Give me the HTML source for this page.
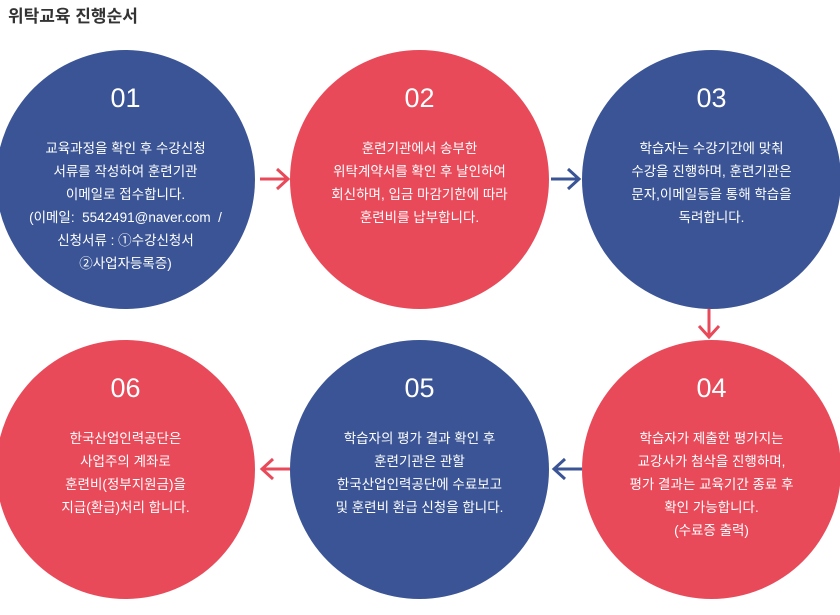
<!DOCTYPE html>
<html><head><meta charset="utf-8"><style>
body{margin:0;width:840px;height:615px;background:#fff;position:relative;overflow:hidden;font-family:"Liberation Sans","Noto Sans CJK KR",sans-serif}
.t{position:absolute;left:8px;top:2px;font-size:17px;font-weight:bold;color:#333}
.c{position:absolute;width:259px;height:259px;border-radius:50%;color:#fff;text-align:center}
.b{background:#3a5495}.r{background:#e84a5a}
.n{position:absolute;left:0;right:0;top:33px;font-size:27px;font-weight:500}
.x{position:absolute;left:0;right:0;top:87px;font-size:13.5px;line-height:23px}
svg{position:absolute;left:0;top:0}
</style></head><body>
<div class="t">위탁교육 진행순서</div>
<div class="c b" style="left:-4px;top:50px"><div class="n">01</div><div class="x">교육과정을 확인 후 수강신청<br>서류를 작성하여 훈련기관<br>이메일로 접수합니다.<br>(이메일:&nbsp; 5542491@naver.com &nbsp;/<br>신청서류 : ①수강신청서<br>②사업자등록증)</div></div>
<div class="c r" style="left:290px;top:50px"><div class="n">02</div><div class="x">훈련기관에서 송부한<br>위탁계약서를 확인 후 날인하여<br>회신하며, 입금 마감기한에 따라<br>훈련비를 납부합니다.</div></div>
<div class="c b" style="left:582px;top:50px"><div class="n">03</div><div class="x">학습자는 수강기간에 맞춰<br>수강을 진행하며, 훈련기관은<br>문자,이메일등을 통해 학습을<br>독려합니다.</div></div>
<div class="c r" style="left:582px;top:340px"><div class="n">04</div><div class="x">학습자가 제출한 평가지는<br>교강사가 첨삭을 진행하며,<br>평가 결과는 교육기간 종료 후<br>확인 가능합니다.<br>(수료증 출력)</div></div>
<div class="c b" style="left:290px;top:340px"><div class="n">05</div><div class="x">학습자의 평가 결과 확인 후<br>훈련기관은 관할<br>한국산업인력공단에 수료보고<br>및 훈련비 환급 신청을 합니다.</div></div>
<div class="c r" style="left:-4px;top:340px"><div class="n">06</div><div class="x">한국산업인력공단은<br>사업주의 계좌로<br>훈련비(정부지원금)을<br>지급(환급)처리 합니다.</div></div>
<svg width="840" height="615" fill="none" stroke-width="3">
<g stroke="#e84a5a"><path d="M260 179H288M277 169l11 10-11 10"/><path d="M709 309V337M699 326l10 11 10-11"/></g>
<g stroke="#3a5495"><path d="M551 179H579M568 169l11 10-11 10"/><path d="M582 469H554M565 459l-11 10 11 10"/></g>
<g stroke="#e84a5a"><path d="M290 469H262M273 459l-11 10 11 10"/></g>
</svg>
</body></html>
